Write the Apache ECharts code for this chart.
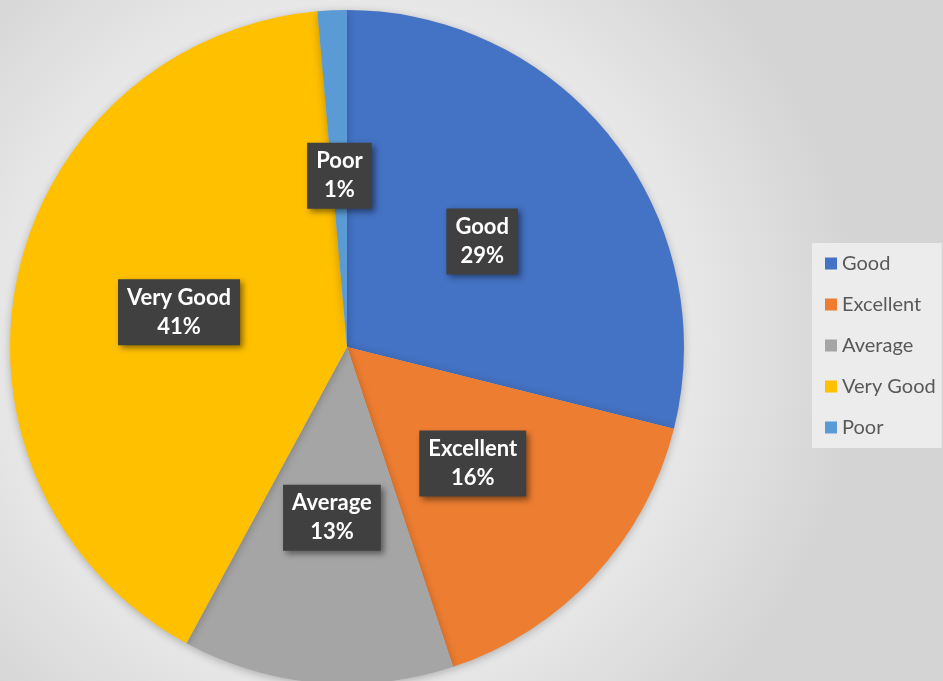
<!DOCTYPE html>
<html>
<head>
<meta charset="utf-8">
<script src="https://cdn.jsdelivr.net/npm/echarts@6/dist/echarts.min.js"></script>
<style>
    html,body{margin:0;padding:0;}
    #ratingPie{width:943px;height:681px;}
</style>
</head>
<body>
<div id="ratingPie"></div>
<script>
    // rating shares
    var categories=['Good','Excellent','Average','Very Good','Poor'];
    var shares=[28.9,16.0,13.0,40.7,1.4];
    var colors=['#4472C4','#ED7D31','#A5A5A5','#FFC000','#5B9BD5'];

    var chart=echarts.init(document.getElementById('ratingPie'));
    var pieData=categories.map(function(name,i){
        return {name:name,value:shares[i],itemStyle:{color:colors[i]}};
    });

    var option={
        backgroundColor:{
            type:'radial',x:0.37,y:0.5,r:0.75,
            colorStops:[
                {offset:0,color:'#f5f5f5'},
                {offset:0.6,color:'#ebebeb'},
                {offset:1,color:'#d4d4d4'}
            ]
        },
        animation:false,
        legend:{
            orient:'vertical',
            left:812,
            top:243,
            padding:[10,6,10,13],
            backgroundColor:'#ececec',
            itemWidth:12,
            itemHeight:12,
            itemGap:20,
            icon:'rect',
            textStyle:{
                fontFamily:'Lato',
                fontSize:20,
                lineHeight:21,
                color:'#595959'
            },
            data:categories
        },
        series:[
            {
                type:'pie',
                center:[347,347],
                radius:[0,337],
                startAngle:90,
                clockwise:true,
                percentPrecision:0,
                avoidLabelOverlap:false,
                itemStyle:{
                    shadowBlur:8,
                    shadowColor:'rgba(0,0,0,0.25)',
                    shadowOffsetY:2
                },
                label:{
                    show:true,
                    position:'inside',
                    formatter:'{b}\n{d}%',
                    color:'#ffffff',
                    fontFamily:'Lato',
                    fontWeight:'bold',
                    fontSize:22,
                    lineHeight:29,
                    backgroundColor:'#404040',
                    padding:[5,9,3,9],
                    shadowBlur:6,
                    shadowColor:'rgba(0,0,0,0.45)',
                    shadowOffsetX:3,
                    shadowOffsetY:3
                },
                labelLine:{show:false},
                emphasis:{disabled:true},
                data:pieData
            }
        ]
    };
    chart.setOption(option);
    window.addEventListener('resize',chart.resize);
</script>
</body>
</html>
